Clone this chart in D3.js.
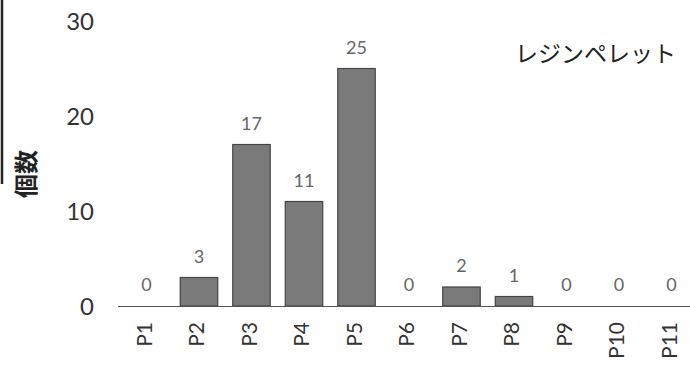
<!DOCTYPE html>
<html><head><meta charset="utf-8">
<script src="https://cdn.jsdelivr.net/npm/d3@7"></script>
<style>body{margin:0;background:#fff}svg{display:block}</style>
</head><body>
<script>
const categories = ["P1","P2","P3","P4","P5","P6","P7","P8","P9","P10","P11"];
const counts = [0,3,17,11,25,0,2,1,0,0,0];
const yTicks = [0,10,20,30];
const title = "レジンペレット";
const yTitle = "個数";

const W = 690, H = 365;
const svg = d3.select("body").append("svg").attr("width", W).attr("height", H);

const x = d3.scaleBand().domain(categories).range([120.25, 697.75]).paddingInner(0.286).paddingOuter(0.143);
const y = d3.scaleLinear().domain([0, 30]).range([306, 21]);

// scan edge line
svg.append("line").attr("x1", 2).attr("x2", 2).attr("y1", 0).attr("y2", 184)
  .attr("stroke", "#222").attr("stroke-width", 2.5);

// y tick labels
svg.append("g").selectAll("text").data(yTicks).join("text")
  .attr("x", 94).attr("y", d => y(d)).attr("dy", "0.36em")
  .attr("text-anchor", "end").attr("font-family", "Lato, 'Open Sans', sans-serif")
  .attr("font-size", 24).attr("fill", "#333").text(d => d);

// y title
svg.append("text").attr("transform", "translate(28,174) rotate(-90)")
  .attr("text-anchor", "middle").attr("dominant-baseline", "middle")
  .attr("font-family", "'Noto Sans CJK JP', sans-serif").attr("font-weight", "bold")
  .attr("font-size", 24).attr("fill", "#222").text(yTitle);

// bars
svg.append("g").selectAll("rect").data(categories).join("rect")
  .attr("x", d => x(d)).attr("width", x.bandwidth())
  .attr("y", (d, i) => y(counts[i])).attr("height", (d, i) => y(0) - y(counts[i]))
  .attr("fill", "#7a7a7a").attr("stroke", "#444").attr("stroke-width", 1.2);

// baseline
svg.append("line").attr("x1", 118).attr("x2", 690).attr("y1", y(0) + 0.5).attr("y2", y(0) + 0.5)
  .attr("stroke", "#555").attr("stroke-width", 1.2);

// value labels
svg.append("g").selectAll("text").data(categories).join("text")
  .attr("x", d => x(d) + x.bandwidth() / 2).attr("y", (d, i) => y(counts[i]) - 15)
  .attr("text-anchor", "middle").attr("font-family", "Lato, 'Open Sans', sans-serif")
  .attr("font-size", 18).attr("fill", "#666").text((d, i) => counts[i]);

// x labels
svg.append("g").selectAll("text").data(categories).join("text")
  .attr("transform", d => `translate(${x(d) + x.bandwidth() / 2},322) rotate(-90)`)
  .attr("text-anchor", "end").attr("dominant-baseline", "middle")
  .attr("font-family", "Lato, 'Open Sans', sans-serif")
  .attr("font-size", 21).attr("fill", "#333").text(d => d);

// title
svg.append("text").attr("x", 676).attr("y", 54).attr("dy", "0.35em")
  .attr("text-anchor", "end").attr("font-family", "'Noto Sans CJK JP', sans-serif")
  .attr("font-size", 23).attr("fill", "#222").text(title);
</script>
</body></html>
